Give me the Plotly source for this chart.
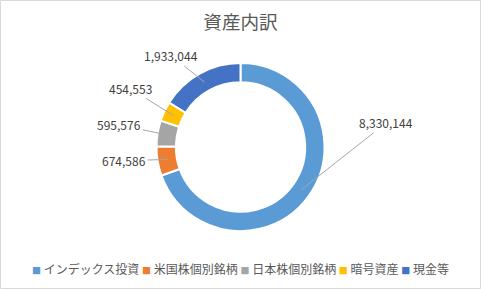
import math
import plotly.graph_objects as go

# ---- data ----
categories = ["インデックス投資", "米国株個別銘柄", "日本株個別銘柄", "暗号資産", "現金等"]
values = [8330144, 674586, 595576, 454553, 1933044]
colors = ["#5B9BD5", "#ED7D31", "#A5A5A5", "#FFC000", "#4472C4"]
title_text = "資産内訳"

# ---- layout / style ----
W, H = 481, 289
CX, CY = 240.5, 147.0       # donut centre (px)
R_OUT = 84.0                # outer radius (px)
HOLE = 0.77
R_MID = R_OUT * (1 + HOLE) / 2
# label offsets (px) from the leader-line anchor
LABEL_OFFSETS = [(85, -67), (-43, 1), (-48, -10), (-43, -27), (-33, -26)]
FONT = "Noto Sans CJK JP"

fig = go.Figure(go.Pie(
    labels=categories,
    values=values,
    hole=HOLE,
    sort=False,
    direction="clockwise",
    rotation=0,
    textinfo="none",
    marker=dict(colors=colors, line=dict(color="white", width=2)),
    domain=dict(x=[(CX - R_OUT) / W, (CX + R_OUT) / W],
                y=[1 - (CY + R_OUT) / H, 1 - (CY - R_OUT) / H]),
    showlegend=False,
))

# data labels with leader lines, anchored at each slice's mid-angle
total = sum(values)
annotations = []
cum = 0.0
for v, (ox, oy) in zip(values, LABEL_OFFSETS):
    mid = (cum + v / 2) / total * 2 * math.pi
    cum += v
    px = CX + R_MID * math.sin(mid)
    py = CY - R_MID * math.cos(mid)
    annotations.append(dict(
        x=px / W, y=1 - py / H, xref="paper", yref="paper",
        text=f"{v:,}", showarrow=True, arrowhead=0, arrowwidth=1,
        arrowcolor="#A6A6A6", ax=ox, ay=oy, standoff=0, startstandoff=0,
        font=dict(family=FONT, size=12, color="#404040"),
    ))

# legend line
legend_text = " ".join(
    f"<span style='color:{c};font-size:9px'>■</span> {lab}"
    for c, lab in zip(colors, categories)
)
annotations.append(dict(
    x=0.5, y=1 - 268 / H, xref="paper", yref="paper", showarrow=False,
    text=legend_text, xanchor="center", yanchor="middle",
    font=dict(family=FONT, size=12, color="#595959"),
))

fig.update_layout(
    width=W, height=H,
    margin=dict(l=0, r=0, t=0, b=0),
    paper_bgcolor="white", plot_bgcolor="white",
    title=dict(text=title_text, x=0.5, xanchor="center",
               y=1 - 22 / H, yanchor="middle",
               font=dict(family=FONT, size=18.6, color="#595959")),
    annotations=annotations,
    shapes=[dict(type="rect", xref="paper", yref="paper",
                 x0=0.5 / W, x1=1 - 0.5 / W, y0=0.5 / H, y1=1 - 0.5 / H,
                 line=dict(color="#D9D9D9", width=1))],
)

fig.write_html("out.html")
